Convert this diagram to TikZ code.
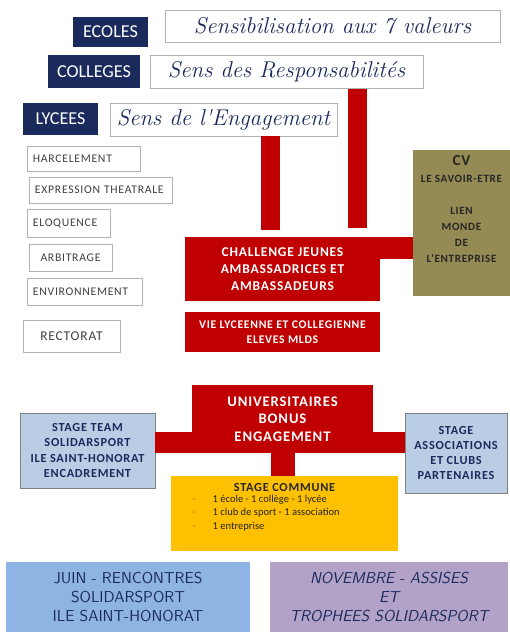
\documentclass[tikz,border=0pt]{standalone}
\usepackage{fontspec}
\setmainfont{Carlito}
\newfontfamily\handfont{Latin Modern Roman}
\newfontfamily\roundfont{Latin Modern Sans}
\newcommand\widen{\addfontfeature{LetterSpace=6}}
\usetikzlibrary{shapes}
\definecolor{navy}{HTML}{1B2A5C}
\definecolor{brickred}{HTML}{C00000}
\definecolor{olive}{HTML}{948A54}
\definecolor{paleblue}{HTML}{B9CDE5}
\definecolor{amber}{HTML}{FFC000}
\definecolor{skyblue}{HTML}{8EB4E3}
\definecolor{lilac}{HTML}{B3A2C7}

\begin{document}
\begin{tikzpicture}[x=0.03cm,y=-0.03cm,
	schoolbox/.style={fill=navy,text=white,inner sep=0pt,font=\fontsize{15.5}{17}\selectfont},
	motto/.style={draw=gray!60,line width=0.8pt,fill=white,text=navy,inner sep=0pt,minimum height=0.99cm,font=\handfont\itshape\fontsize{19.5}{21}\selectfont},
	activity/.style={draw=gray!60,line width=0.8pt,fill=white,text=black!75,inner xsep=0.18cm,inner ysep=0pt,align=left,font=\fontsize{10}{11}\selectfont\widen},
	redbox/.style={fill=brickred,text=white,align=center,inner sep=0pt,minimum width=5.85cm,font=\bfseries\fontsize{11.5}{14.5}\selectfont\widen},
	bluebox/.style={draw=gray,line width=0.8pt,fill=paleblue,text=navy,align=center,inner sep=0pt,font=\bfseries\fontsize{10.5}{13}\selectfont\widen},
	eventbox/.style={text=navy,align=center,inner sep=0pt,minimum height=2.1cm,font=\roundfont\fontsize{13.5}{16.5}\selectfont},
	redbar/.style={brickred,line width=0.57cm}]
	\useasboundingbox[fill=white] (0,0) rectangle (510,632);

	\node[schoolbox,minimum width=2.25cm,minimum height=0.9cm] (ecoles) at (110.5,32) {ECOLES};
	\node[motto,minimum width=10.05cm,minimum height=0.96cm] (valeurs) at (332.5,26) {Sensibilisation aux 7 valeurs};
	\node[schoolbox,minimum width=2.76cm,minimum height=0.99cm] (colleges) at (94,71.5) {COLLEGES};
	\node[motto,minimum width=8.19cm] (respons) at (286.5,71.5) {Sens des Responsabilités};
	\node[schoolbox,minimum width=2.25cm,minimum height=0.96cm] (lycees) at (60.5,119) {LYCEES};
	\node[motto,minimum width=6.81cm] (engag) at (223.5,119.5) {Sens de l'Engagement};

	\node[activity,text width=3.03cm,minimum height=0.75cm] (harcel) at (83.5,158.5) {HARCELEMENT};
	\node[activity,text width=3.93cm,minimum height=0.78cm] (expr) at (100.5,190) {EXPRESSION THEATRALE};
	\node[activity,text width=2.13cm,minimum height=0.84cm] (eloq) at (68.5,223) {ELOQUENCE};
	\node[activity,text width=2.13cm,minimum height=0.81cm,align=center] (arbit) at (70.5,257.5) {ARBITRAGE};
	\node[activity,text width=3.09cm,minimum height=0.81cm] (envir) at (84.5,291.5) {ENVIRONNEMENT};
	\node[activity,text width=2.55cm,minimum height=0.96cm,align=center,font=\fontsize{11.5}{13}\selectfont\widen] (rectorat) at (71.5,336) {RECTORAT};

	\node[redbox,minimum height=1.92cm] (challenge) at (282.5,269) {CHALLENGE JEUNES\\AMBASSADRICES ET\\AMBASSADEURS};
	\node[redbox,minimum height=1.2cm,font=\bfseries\fontsize{10}{13}\selectfont\widen] (vie) at (282.5,332) {VIE LYCEENNE ET COLLEGIENNE\\ELEVES MLDS};
	\node[fill=olive,text=black!85,align=center,inner sep=0pt,minimum width=2.91cm,minimum height=4.38cm,font=\bfseries\fontsize{9.5}{13.7}\selectfont\widen] (cv) at (461.5,223)
		{{\fontsize{13}{14}\selectfont CV}\\LE SAVOIR-ETRE\\[13.7pt]LIEN\\MONDE\\DE\\L'ENTREPRISE\\[10pt]};

	\node[redbox,minimum width=5.43cm,minimum height=2.04cm,font=\bfseries\fontsize{12.5}{15}\selectfont\widen] (univ) at (282.5,419) {UNIVERSITAIRES\\BONUS\\ENGAGEMENT};
	\node[bluebox,minimum width=4.05cm,minimum height=2.25cm] (team) at (87.5,450.5) {STAGE TEAM\\SOLIDARSPORT\\ILE SAINT-HONORAT\\ENCADREMENT};
	\node[bluebox,minimum width=3.06cm,minimum height=2.4cm] (assoc) at (456,453) {STAGE\\ASSOCIATIONS\\ET CLUBS\\PARTENAIRES};
	\node[fill=amber,text=black!85,align=center,inner sep=0pt,minimum width=6.81cm,minimum height=2.25cm,font=\fontsize{9}{11.5}\selectfont] (commune) at (284.5,513.5)
		{{\bfseries\fontsize{10.5}{12}\selectfont\widen STAGE COMMUNE}\\
		\hspace*{-1.1cm}\begin{tabular}{@{}l@{\hspace{1.6em}}l@{}}
			\textcolor{orange!80!black}{-} & 1 école - 1 collège - 1 lycée\\
			\textcolor{orange!80!black}{-} & 1 club de sport - 1 association\\
			\textcolor{orange!80!black}{-} & 1 entreprise
		\end{tabular}\\[8pt]};

	\node[eventbox,fill=skyblue,minimum width=7.32cm] (juin) at (128,597) {JUIN - RENCONTRES\\SOLIDARSPORT\\ILE SAINT-HONORAT};
	\node[eventbox,fill=lilac,minimum width=7.14cm,font=\roundfont\slshape\fontsize{13.5}{16.5}\selectfont] (nov) at (389,597) {NOVEMBRE - ASSISES\\ET\\TROPHEES SOLIDARSPORT};

	\draw[redbar,shorten >=0.21cm] ([xshift=1.41cm]engag.south) -- ([xshift=1.41cm]engag.south |- challenge.north);
	\draw[redbar,shorten <=0.03cm,shorten >=0.27cm] ([xshift=2.13cm]respons.south) -- ([xshift=2.13cm]respons.south |- challenge.north);
	\draw[redbar,line width=0.66cm] ([yshift=-0.33cm]challenge.north east) -- ([yshift=-0.33cm]challenge.north east -| cv.west);
	\draw[redbar,line width=0.63cm] ([yshift=0.315cm]univ.south west) -- ([yshift=0.315cm]univ.south west -| team.east);
	\draw[redbar,line width=0.63cm] ([yshift=0.315cm]univ.south east) -- ([yshift=0.315cm]univ.south east -| assoc.west);
	\draw[redbar,line width=0.72cm] (univ.south) -- (univ.south |- commune.north);
\end{tikzpicture}
\end{document}
